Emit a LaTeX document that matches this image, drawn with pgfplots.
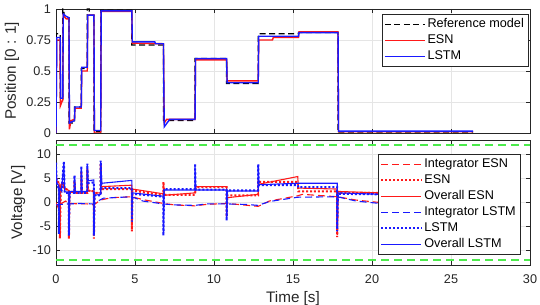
\documentclass[border=0pt]{standalone}
\usepackage{fontspec}
\setmainfont{Liberation Sans}
\usepackage{pgfplots}
\pgfplotsset{compat=1.18}
\definecolor{mgreen}{rgb}{0.3,0.92,0.3}
\definecolor{mred}{rgb}{1,0.1,0.1}
\definecolor{mblue}{rgb}{0.1,0.1,1}
\definecolor{axgray}{rgb}{0.15,0.15,0.15}
\newcommand{\labfont}{\fontsize{15.3}{17}\selectfont}
\pgfplotsset{
  myax/.style={
    scale only axis, anchor=south west,
    width=474bp, xmin=0, xmax=30,
    xtick={0,5,...,30},
    axis line style={axgray, line width=0.5pt},
    tick style={axgray, line width=0.5pt},
    tick align=inside,
    major tick length=4bp,
    grid=major,
    major grid style={gray!20, line width=0.5pt},
    /pgf/number format/assume math mode=true,
    ticklabel style={font=\fontsize{12.7}{14}\selectfont, text=axgray},
    xticklabel style={yshift=-6bp},
    yticklabel style={xshift=-1.5bp},
    legend cell align=left,
    legend style={font=\fontsize{12.7}{14}\selectfont, draw=axgray, fill=white, line width=0.5pt,
      inner sep=2bp, row sep=0bp,
      nodes={text height=9.5bp, text depth=2.5bp, inner ysep=2bp, inner xsep=2bp}},
    legend image code/.code={\draw[#1] plot coordinates {(0bp,0bp) (40bp,0bp)};},
  }
}
\begin{document}
\begin{tikzpicture}
\path[use as bounding box] (0bp,0bp) rectangle (540bp,305bp);
\begin{axis}[myax, at={(56bp,172bp)}, height=124bp,
  ymin=0, ymax=1, ytick={0,0.25,0.5,0.75,1},
  yticklabels={0,0.25,0.5,0.75,1},
  xticklabels={},
  ylabel={Position [0 : 1]},
  every axis y label/.style={at={(axis description cs:-0.093,0.5)}, rotate=90, anchor=center, font=\labfont, text=axgray},
  legend style={at={(axis description cs:0.996,0.96)}, anchor=north east},
]
\addplot[black, line width=1.3pt, dash pattern=on 6bp off 3.5bp] coordinates {
(0,0) (0.02,0.8) (0.27,0.8) (0.27,0.27) (0.43,0.27) (0.43,1.0) (0.5,1.0) (0.5,0.93) (0.82,0.93)
(0.82,0.08) (1.17,0.08) (1.17,0.21) (1.6,0.21) (1.6,0.52) (1.98,0.52) (1.98,1.0) (2.1,1.0) (2.1,0.95)
(2.4,0.95) (2.4,0.01) (2.83,0.01) (2.83,0.99) (4.8,0.99) (4.8,0.71) (6.8,0.71) (6.8,0.1) (8.8,0.1)
(8.8,0.6) (10.8,0.6) (10.8,0.4) (12.8,0.4) (12.8,0.8) (15.35,0.8) (15.35,0.81) (17.85,0.81)
(17.85,0.0) (26.4,0.0)};
\addlegendentry{Reference model}
\addplot[mred, line width=1.4pt] coordinates {
(0,0) (0.05,0.75) (0.25,0.75) (0.28,0.22) (0.4,0.26) (0.43,0.26) (0.46,0.95) (0.65,0.92) (0.82,0.92)
(0.85,0.03) (0.95,0.1) (1.17,0.11) (1.2,0.2) (1.6,0.2) (1.63,0.5) (1.98,0.5) (2.01,0.95) (2.4,0.95)
(2.43,0.0) (2.83,0.0) (2.86,0.98) (4.8,0.98) (4.83,0.725) (6.8,0.72) (6.85,0.08) (7.0,0.11) (8.8,0.11)
(8.83,0.59) (10.8,0.59) (10.83,0.42) (12.8,0.42) (12.83,0.75) (13.7,0.75) (13.75,0.77) (15.35,0.77)
(15.38,0.815) (17.85,0.815) (17.88,0.01) (26.4,0.01)};
\addlegendentry{ESN}
\addplot[mblue, line width=1.4pt] coordinates {
(0,0) (0.05,0.77) (0.27,0.77) (0.3,0.28) (0.43,0.28) (0.46,0.96) (0.65,0.94) (0.82,0.93) (0.85,0.08)
(1.0,0.09) (1.17,0.1) (1.2,0.21) (1.6,0.21) (1.63,0.53) (1.98,0.53) (2.01,0.95) (2.4,0.95) (2.43,0.02)
(2.83,0.02) (2.86,0.985) (4.8,0.985) (4.83,0.735) (6.25,0.735) (6.3,0.72) (6.8,0.72) (6.85,0.05)
(7.2,0.11) (8.8,0.11) (8.83,0.6) (10.8,0.6) (10.83,0.405) (12.8,0.405) (12.83,0.78) (15.35,0.78)
(15.38,0.81) (17.85,0.81) (17.88,0.015) (26.4,0.015)};
\addlegendentry{LSTM}
\end{axis}
\begin{axis}[myax, at={(56bp,40bp)}, height=125bp,
  ymin=-13, ymax=13, ytick={-10,-5,0,5,10},
  xlabel={Time [s]}, ylabel={Voltage [V]},
  every axis y label/.style={at={(axis description cs:-0.080,0.5)}, rotate=90, anchor=center, font=\labfont, text=axgray},
  every axis x label/.style={at={(axis description cs:0.5,-0.265)}, anchor=center, font=\labfont, text=axgray},
  legend style={at={(axis description cs:0.979,0.888)}, anchor=north east},
]
\addplot[mgreen, line width=2.2pt, dash pattern=on 8bp off 5bp, forget plot] coordinates {(0,12) (30,12)};
\addplot[mgreen, line width=2.2pt, dash pattern=on 8bp off 5bp, forget plot] coordinates {(0,-12) (30,-12)};
% Integrator ESN
\addplot[mred, line width=1.1pt, dash pattern=on 7bp off 4bp] coordinates {
(0,0) (0.15,-1.2) (0.3,-0.3) (0.6,0.3) (0.9,-0.2) (1.5,-0.3) (2.0,-0.3) (2.4,-0.5) (2.8,0.5) (3.5,1.0)
(4.8,1.2) (5.5,0.6) (6.8,-0.2) (7.5,-0.5) (8.8,-0.7) (9.5,-0.4) (10.8,-0.2) (11.5,-0.4) (12.8,-0.8)
(13.5,0.3) (15.3,1.4) (15.6,1.7) (17.8,1.2) (19,0.5) (20.5,0) (26.4,-1.0)};
\addlegendentry{Integrator ESN}
% ESN
\addplot[mred, line width=2pt, dotted] coordinates {
(0,6.0) (0.05,4.5) (0.2,4.0) (0.25,-7.5) (0.3,3.5) (0.45,4.3) (0.5,3.0) (0.82,2.5) (0.82,-7.5)
(0.86,2.2) (1.17,2.2) (1.17,4.5) (1.21,2.0) (1.6,2.0) (1.6,6.5) (1.64,2.0) (1.98,2.0) (1.98,7.0)
(2.02,2.5) (2.4,2.3) (2.4,-7.5) (2.44,2.0) (2.83,2.0) (2.83,8.0) (2.87,2.8) (4.8,2.8) (4.8,-6.0)
(4.84,2.5) (6.8,1.5) (6.8,4.3) (6.84,1.6) (8.8,1.6) (8.84,3.2) (10.8,3.2) (10.8,-3.0) (10.84,1.5)
(12.8,1.5) (12.8,4.5) (12.84,4.3) (15.3,4.3) (15.34,2.3) (17.8,2.3) (17.8,-7.2) (17.84,2.0)
(20.5,2.0) (26.4,1.8)};
\addlegendentry{ESN}
% Overall ESN
\addplot[mred, line width=1.1pt] coordinates {
(0,5.5) (0.05,4.5) (0.2,4.0) (0.25,-7.0) (0.3,3.5) (0.45,4.0) (0.5,3.0) (0.82,2.5) (0.82,-7.0)
(0.86,2.2) (1.17,2.2) (1.17,4.3) (1.21,2.0) (1.6,2.0) (1.6,6.3) (1.64,2.0) (1.98,2.0) (1.98,6.8)
(2.02,2.5) (2.4,2.3) (2.4,-7.0) (2.44,2.0) (2.83,2.0) (2.83,7.8) (2.87,3.3) (4.8,3.6) (4.8,-5.5)
(4.84,2.8) (6.8,1.8) (6.8,4.0) (6.84,1.5) (8.8,2.0) (8.84,3.3) (10.8,3.3) (10.8,-2.8) (10.84,1.0)
(12.8,1.7) (12.8,4.2) (12.84,3.8) (15.3,5.4) (15.34,3.0) (17.8,2.8) (17.8,-6.8) (17.84,2.3)
(20.5,2.0) (26.4,1.8)};
\addlegendentry{Overall ESN}
% Integrator LSTM
\addplot[mblue, line width=1.1pt, dash pattern=on 7bp off 4bp] coordinates {
(0,-0.5) (0.3,-0.4) (0.8,-0.3) (1.5,-0.2) (2.4,-0.3) (2.6,0.2) (3.0,0.9) (4.8,1.2) (5.5,0.3)
(6.8,-0.3) (7.5,-0.5) (8.8,-0.6) (9.5,-0.3) (10.8,-0.3) (12.0,-0.4) (12.8,-0.6) (13.5,0.2)
(15.3,1.1) (17.8,1.2) (19,0.3) (20.5,-0.2) (26.4,-1.0)};
\addlegendentry{Integrator LSTM}
% LSTM
\addplot[mblue, line width=2pt, dotted] coordinates {
(0,8.3) (0.05,3.5) (0.18,3.0) (0.18,-6.5) (0.22,3.0) (0.35,2.5) (0.5,8.6) (0.55,2.0) (0.82,2.0)
(0.82,-6.9) (0.86,2.0) (1.17,2.0) (1.17,5.7) (1.21,2.0) (1.6,2.0) (1.6,7.6) (1.64,2.0) (1.98,2.0)
(1.98,8.1) (2.02,4.0) (2.4,4.2) (2.4,-6.9) (2.44,1.5) (2.83,1.5) (2.83,8.7) (2.87,3.0) (4.8,3.0)
(4.8,-4.0) (4.84,1.8) (6.8,1.2) (6.8,-6.9) (6.84,2.8) (8.8,2.8) (8.8,8.1) (8.84,2.7) (10.8,2.7)
(10.8,-3.8) (10.84,2.5) (12.8,2.5) (12.8,8.0) (12.84,3.6) (15.3,3.6) (15.34,3.2) (17.8,3.2)
(17.8,-6.0) (17.84,1.8) (20.5,1.7) (26.4,1.5)};
\addlegendentry{LSTM}
% Overall LSTM
\addplot[mblue, line width=1.1pt] coordinates {
(0,8.0) (0.05,4.0) (0.18,3.5) (0.18,-6.0) (0.22,3.0) (0.35,2.5) (0.5,8.3) (0.55,2.2) (0.82,2.2)
(0.82,-6.5) (0.86,2.3) (1.17,2.3) (1.17,5.5) (1.21,2.3) (1.6,2.3) (1.6,7.3) (1.64,2.3) (1.98,2.3)
(1.98,7.8) (2.02,4.5) (2.4,4.7) (2.4,-6.5) (2.44,1.5) (2.83,1.7) (2.83,8.5) (2.9,4.0) (4.8,4.6)
(4.8,-3.0) (4.84,2.0) (6.8,1.3) (6.8,-6.5) (6.84,2.6) (8.8,2.6) (8.8,7.8) (8.84,2.6) (10.8,2.6)
(10.8,-3.5) (10.84,2.4) (12.8,2.4) (12.8,7.8) (12.84,3.7) (15.3,4.0) (15.34,4.0) (17.8,4.0)
(17.8,-5.5) (17.84,2.0) (20.5,1.7) (26.4,1.5)};
\addlegendentry{Overall LSTM}
\end{axis}
\end{tikzpicture}
\end{document}
